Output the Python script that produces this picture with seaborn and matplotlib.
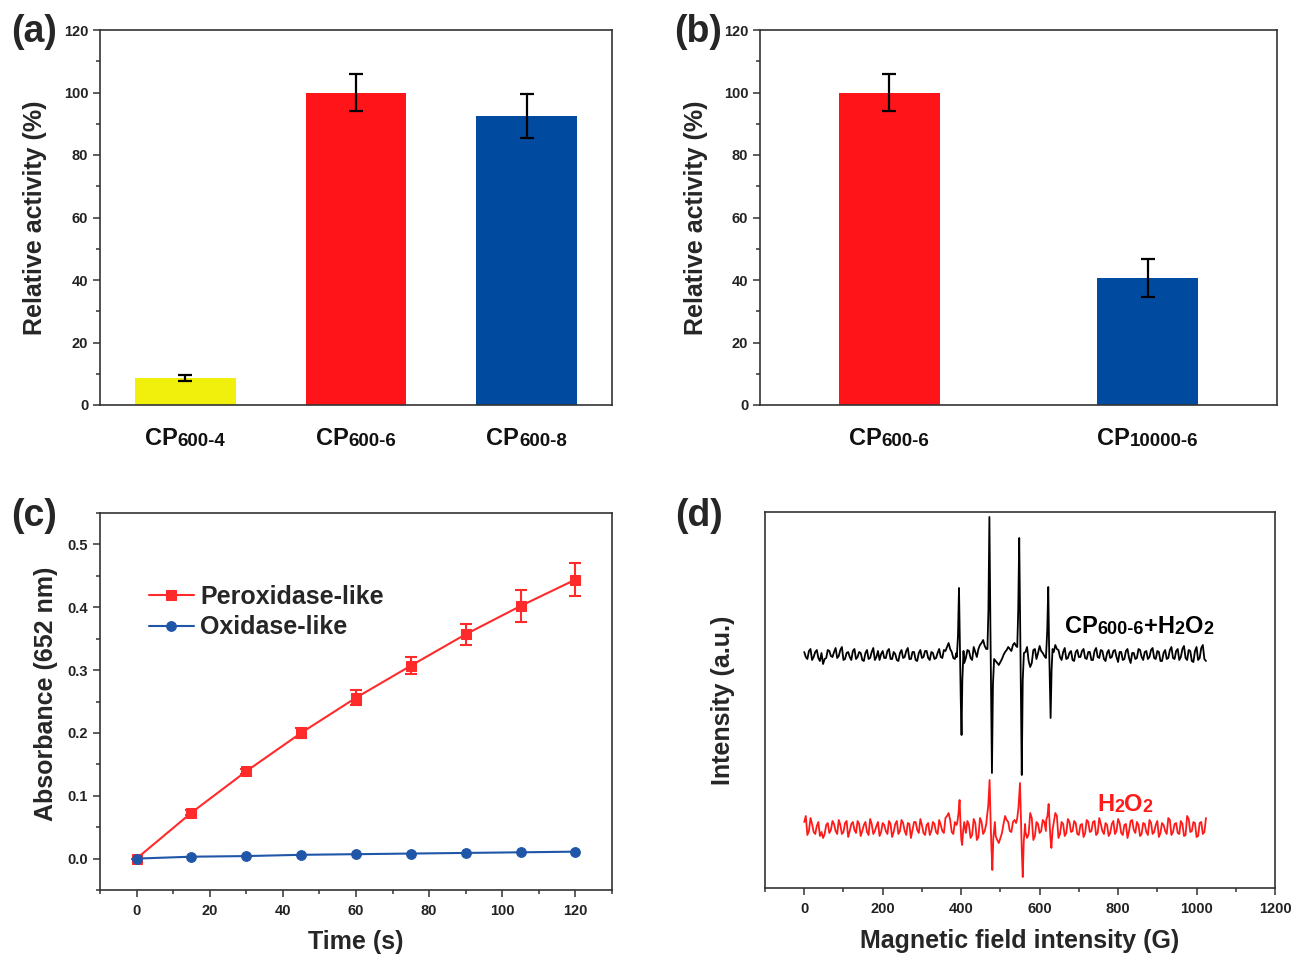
import numpy as np
import pandas as pd
import matplotlib
matplotlib.use("Agg")
import matplotlib.pyplot as plt
import seaborn as sns
from matplotlib.ticker import MultipleLocator
from matplotlib.transforms import offset_copy

# ---- data ----
# (a) activity vs. heating time
cats_a = ["CP600-4", "CP600-6", "CP600-8"]
act_a = [8.6, 100.0, 92.4]
sd_a = [1.0, 6.0, 7.0]
colors_a = ["#F0F00C", "#FF141A", "#004BA0"]

# (b) activity vs. molecular weight
cats_b = ["CP600-6", "CP10000-6"]
act_b = [100.0, 40.6]
sd_b = [6.0, 6.0]
colors_b = ["#FF141A", "#004BA0"]

# (c) kinetics
time_s = [0, 15, 30, 45, 60, 75, 90, 105, 120]
perox = [0.000, 0.073, 0.139, 0.200, 0.256, 0.307, 0.357, 0.402, 0.444]
perox_sd = [0.000, 0.004, 0.004, 0.008, 0.012, 0.014, 0.017, 0.025, 0.026]
oxid = [0.000, 0.003, 0.004, 0.006, 0.007, 0.008, 0.009, 0.010, 0.011]

# (d) EPR traces: baseline read every 4 G (two interleaved lists) + the four DMPO-OH lines
field_grid = np.arange(0, 1025, 8)
field_mid = np.arange(4, 1024, 8)
black_base = [3, -4, 6, -2, 5, -6, -9, -3, 4, -2,
              7, -1, 8, -4, 3, -5, 6, -2, 2, -6,
              5, -3, 7, -2, -5, 4, -3, 6, -4, 1,
              -6, 5, -2, 7, -4, 3, -6, 5, -2, 4,
              -5, 2, -3, 6, -3, 4, 12, 3, -4, 0,
              0, -8, 5, -3, 8, -2, 10, 15, 6, 0,
              0, -6, -10, -4, 3, 8, 4, 12, 0, 0,
              0, 8, -12, 5, -4, 9, 2, -3, 0, 0,
              10, 5, -5, 7, -3, 4, -6, 5, -2, 6,
              -4, 3, -5, 7, -3, 4, -6, 5, -2, 5,
              -7, 3, -4, 6, -8, 2, -3, 5, -5, 4,
              -2, 7, -4, 3, -6, 5, -3, 8, -4, 6,
              -2, 9, -5, 4, -7, 8, -3, 10, -6]
black_mid = [-2, 4, -5, 3, -3, 2, -4, 5, -1, 3,
             -3, 5, -5, 2, -2, 4, -4, 3, -5, 2,
             -4, 3, -5, 4, 1, -3, 4, -4, 3, -5,
             2, -3, 4, -4, 3, -5, 2, -3, 4, -3,
             3, -4, 2, -2, 5, 8, 6, -3, 2, 0,
             0, -3, 4, -5, 3, 6, 12, 9, 0, 0,
             0, -8, -7, 0, 5, 6, 10, 9, 0, 0,
             3, -6, -8, 6, 2, 4, -1, 0, 0, 3,
             6, -2, 3, -4, 2, -5, 3, -2, 4, -3,
             3, -5, 4, -2, 5, -4, 2, -3, 4, -2,
             3, -5, 4, -3, 2, -4, 6, -2, 3, -4,
             5, -3, 4, -6, 2, -4, 5, -3, 4, -5,
             6, -3, 5, -6, 4, -5, 7, -4]
black_lines = [
    [(389, -2), (392, 20), (394.5, 67), (397, 5), (399, -45), (401, -80), (403, -25), (406, 4)],
    [(467, 6), (469.5, 45), (472, 138), (474.5, 30), (476.5, -40), (478.5, -118), (481, -30), (484, -4)],
    [(543, 8), (545.5, 45), (548, 117), (550.5, 30), (552.5, -45), (554.5, -120), (557, -25), (560, 2)],
    [(617, 4), (619.5, 25), (622, 68), (624, 12), (626, -25), (628, -63), (630.5, -15), (633, 6)],
]
red_base = [6, -7, 10, -4, 2, -8, -10, 3, -5, 7,
            -3, 8, -6, 5, -9, 4, -2, 7, -8, 3,
            -4, 9, -6, 2, -8, 5, -3, 7, -9, 4,
            -6, 8, -3, 5, -10, 6, -2, 9, -5, 3,
            -7, 6, -4, 8, -3, 10, 15, -4, 6, 0,
            0, -8, 7, -10, 9, -12, 10, -6, 4, 0,
            0, -8, -15, -5, 12, 6, -4, 8, 0, 0,
            0, -10, 15, -12, 6, -5, 8, -3, 0, 0,
            15, -10, 6, -8, 9, -4, 7, -6, 3, -9,
            8, -4, 6, -7, 10, -3, 5, -8, 4, -6,
            9, -5, 3, -10, 7, -2, 6, -8, 5, -4,
            8, -6, 3, -9, 5, -3, 10, -7, 4, -5,
            7, -8, 12, -4, 6, -9, 5, -6, 10]
red_mid = [12, -3, 4, -6, 6, -4, -6, 5, -2, 4,
           -6, 3, -4, 7, -3, 6, -5, 4, -3, 6,
           -7, 4, -3, 6, -4, 3, -6, 4, -4, 7,
           -3, 5, -7, 4, -2, 6, -5, 3, -7, 5,
           -3, 4, -6, 3, -5, 12, 8, -6, 3, 0,
           0, -5, 3, -7, 5, -9, 6, -3, 0, 0,
           0, -12, -10, 4, 8, -3, 6, 5, 0, 0,
           -4, -6, 10, -8, 4, -3, 6, 0, 0, 0,
           12, -6, 4, -5, 6, -3, 5, -7, 4, -5,
           6, -3, 7, -5, 4, -6, 3, -5, 7, -3,
           5, -7, 4, -3, 8, -5, 3, -6, 4, -7,
           5, -4, 7, -5, 3, -6, 8, -4, 5, -6,
           4, -7, 9, -3, 5, -8, 6, -4]
red_lines = [
    [(390, 5), (393, 14), (396, 28), (398.5, 2), (400.5, -12), (402.5, -17), (405, -3), (408, 6)],
    [(466, 12), (469, 22), (472.5, 48), (475, 8), (477, -18), (479.5, -42), (482, -10), (486, 6)],
    [(543, 10), (546, 20), (550, 45), (552.5, 8), (554.5, -22), (557, -49), (559.5, -14), (563, 4)],
    [(617, 8), (620, 12), (623, 24), (625.5, 4), (627.5, -10), (630, -20), (633, -2), (637, 8)],
]
black_offset = 0
red_offset = -173


def build_trace(base, mid, lines, offset):
    pts = []
    for g, v in list(zip(field_grid, base)) + list(zip(field_mid, mid)):
        if not any(grp[0][0] <= g <= grp[-1][0] for grp in lines):
            pts.append((g, v))
    for grp in lines:
        pts.extend(grp)
    df = pd.DataFrame(pts, columns=["G", "I"]).sort_values("G")
    df["I"] = df["I"] + offset
    return df


# ---- style ----
sns.set_theme(style="ticks")
plt.rcParams["font.family"] = ["Liberation Sans", "DejaVu Sans"]
plt.rcParams["font.weight"] = "bold"
plt.rcParams["axes.labelweight"] = "bold"

W, H = 1294, 957
fig = plt.figure(figsize=(W / 100, H / 100), dpi=100)
renderer = fig.canvas.get_renderer()


def px_axes(left, top, right, bottom):
    return fig.add_axes([left / W, 1 - bottom / H, (right - left) / W, (bottom - top) / H])


def put_pieces(ax, x, y, pieces, transform, center=True, color="black"):
    # text in pieces of different size sharing one baseline (for the subscripts)
    texts = []
    for s, size, dy in pieces:
        t = ax.text(x, y, s, fontsize=size, fontweight="bold", color=color,
                    transform=transform, ha="left", va="baseline")
        texts.append((t, dy))
    widths = [t.get_window_extent(renderer).width * 72 / fig.dpi for t, _ in texts]
    start = -sum(widths) / 2 if center else 0
    for (t, dy), w in zip(texts, widths):
        t.set_transform(offset_copy(transform, fig=fig, x=start, y=dy, units="points"))
        start += w


def cat_pieces(name):
    return [("CP", 17, 0), (name[2:], 13.5, -0.8)]


ax_a = px_axes(100, 30, 612, 405)
ax_b = px_axes(760, 30, 1277, 405)
ax_c = px_axes(100, 513, 612, 890)
ax_d = px_axes(765, 512, 1275, 888)

spine_c = "#333333"
for ax in (ax_a, ax_b, ax_c, ax_d):
    for sp in ax.spines.values():
        sp.set_color(spine_c)
        sp.set_linewidth(1.2)
    ax.tick_params(which="both", direction="out", color=spine_c, width=1.1,
                   labelsize=10.5, labelcolor="#222222")
    ax.tick_params(which="major", length=5)
    ax.tick_params(which="minor", length=2.6)


def bar_panel(ax, cats, vals, sds, colors, width):
    sns.barplot(x=cats, y=vals, hue=cats, palette=colors, width=width,
                saturation=1, legend=False, linewidth=0, ax=ax)
    ax.errorbar(range(len(cats)), vals, yerr=sds, fmt="none", ecolor="black",
                elinewidth=1.6, capsize=5, capthick=1.6)
    ax.set_xlim(-0.5, len(cats) - 0.5)
    ax.set_ylim(0, 120)
    ax.yaxis.set_major_locator(MultipleLocator(20))
    ax.yaxis.set_minor_locator(MultipleLocator(10))
    ax.set_xticks(range(len(cats)))
    ax.set_xticklabels([])
    ax.tick_params(axis="x", length=0)
    ax.tick_params(axis="y", pad=3.5)
    for i, c in enumerate(cats):
        put_pieces(ax, i, -0.106, cat_pieces(c), ax.get_xaxis_transform(), color="#111111")
    ax.set_xlabel("")
    ax.set_ylabel("Relative activity (%)", fontsize=18)


bar_panel(ax_a, cats_a, act_a, sd_a, colors_a, 0.59)
ax_a.yaxis.set_label_coords(-0.103, 0.5)
bar_panel(ax_b, cats_b, act_b, sd_b, colors_b, 0.39)
ax_b.yaxis.set_label_coords(-0.10, 0.5)

# (c)
red_c, blue_c = "#FF2A2A", "#1F56A8"
sns.lineplot(x=time_s, y=perox, color=red_c, marker="s", markersize=6.5,
             markeredgecolor=red_c, linewidth=1.5, label="Peroxidase-like", ax=ax_c)
ax_c.errorbar(time_s, perox, yerr=perox_sd, fmt="none", ecolor=red_c,
              elinewidth=1.5, capsize=4, capthick=1.5)
sns.lineplot(x=time_s, y=oxid, color=blue_c, marker="o", markersize=7,
             markeredgecolor=blue_c, linewidth=1.5, label="Oxidase-like", ax=ax_c)
ax_c.set_xlim(-10, 130)
ax_c.set_ylim(-0.05, 0.55)
ax_c.xaxis.set_major_locator(MultipleLocator(20))
ax_c.xaxis.set_minor_locator(MultipleLocator(10))
ax_c.yaxis.set_major_locator(MultipleLocator(0.1))
ax_c.yaxis.set_minor_locator(MultipleLocator(0.05))
ax_c.tick_params(axis="x", pad=5)
ax_c.tick_params(axis="y", pad=3.5)
ax_c.set_xlabel("Time (s)", fontsize=18)
ax_c.set_ylabel("Absorbance (652 nm)", fontsize=18)
ax_c.xaxis.set_label_coords(0.5, -0.105)
ax_c.yaxis.set_label_coords(-0.082, 0.52)
ax_c.legend(loc="center left", bbox_to_anchor=(0.095, 0.737), frameon=False,
            prop={"size": 18, "weight": "bold"}, handlelength=1.8,
            handletextpad=0.25, labelspacing=0.25, borderpad=0, borderaxespad=0)

# (d)
black_df = build_trace(black_base, black_mid, black_lines, black_offset)
red_df = build_trace(red_base, red_mid, red_lines, red_offset)
sns.lineplot(data=black_df, x="G", y="I", color="black", linewidth=1.3,
             estimator=None, ax=ax_d)
sns.lineplot(data=red_df, x="G", y="I", color="#FF1A1A", linewidth=1.3,
             estimator=None, ax=ax_d)
ax_d.set_xlim(-100, 1200)
ax_d.set_ylim(-233, 143)
ax_d.xaxis.set_major_locator(MultipleLocator(200))
ax_d.xaxis.set_minor_locator(MultipleLocator(100))
ax_d.set_yticks([])
ax_d.tick_params(axis="x", pad=5)
ax_d.set_xlabel("Magnetic field intensity (G)", fontsize=18)
ax_d.set_ylabel("Intensity (a.u.)", fontsize=18)
ax_d.xaxis.set_label_coords(0.5, -0.108)
ax_d.yaxis.set_label_coords(-0.059, 0.5)
put_pieces(ax_d, 664, 22,
           [("CP", 17, 0), ("600-6", 13, -1), ("+H", 17, 0), ("2", 13, -1),
            ("O", 17, 0), ("2", 13, -1)],
           ax_d.transData, center=False)
put_pieces(ax_d, 746, -156,
           [("H", 17, 0), ("2", 13, -1), ("O", 17, 0), ("2", 13, -1)],
           ax_d.transData, center=False, color="#FF1A1A")

# panel letters
for lab, (x, y) in {"(a)": (34, 32), "(b)": (698, 32),
                    "(c)": (34, 516), "(d)": (699, 516)}.items():
    fig.text(x / W, 1 - y / H, lab, fontsize=27, fontweight="bold",
             ha="center", va="center")

fig.savefig("out.png", dpi=100)
